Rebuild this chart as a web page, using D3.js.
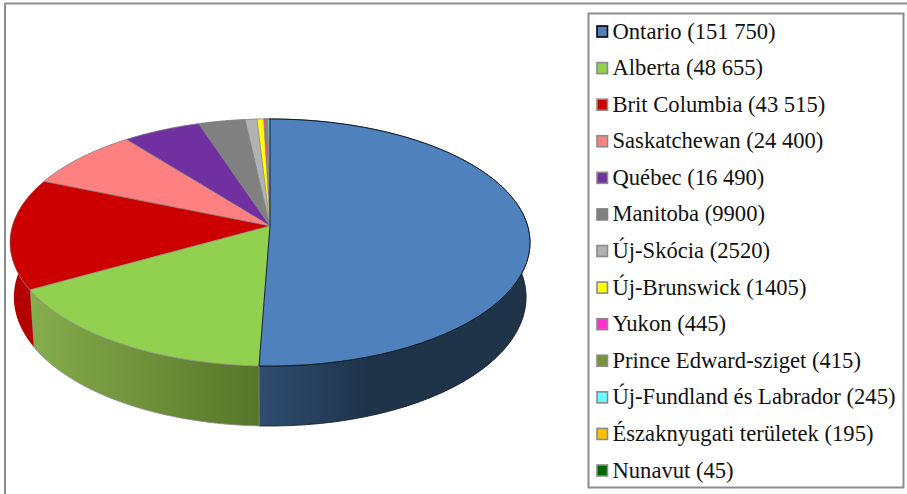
<!DOCTYPE html>
<html>
<head>
<meta charset="utf-8">
<script src="https://cdn.jsdelivr.net/npm/d3@7"></script>
<style>
    html, body { margin: 0; padding: 0; background: #fff; overflow: hidden; }
    text { font-family: 'Liberation Serif', serif; font-size: 22.6px; fill: #111; }
</style>
</head>
<body>
<svg width="907" height="494"></svg>
<script>
const regions = ['Ontario', 'Alberta', 'Brit Columbia', 'Saskatchewan', 'Québec', 'Manitoba', 'Új-Skócia',
    'Új-Brunswick', 'Yukon', 'Prince Edward-sziget', 'Új-Fundland és Labrador', 'Északnyugati területek', 'Nunavut'];
const counts = [151750, 48655, 43515, 24400, 16490, 9900, 2520, 1405, 445, 415, 245, 195, 45];
const countLabels = ['151 750', '48 655', '43 515', '24 400', '16 490', '9900', '2520', '1405', '445', '415', '245', '195', '45'];
const colors = ['#4f81bd', '#92d050', '#cc0000', '#ff8080', '#7030a0', '#808080', '#b2b2b2',
    '#ffff00', '#ff33cc', '#77933c', '#66ffff', '#ffc000', '#006600'];
const sideLeft = ['#2f4d70', '#86ad4c', '#b30000', '#cc6666', '#5a2680', '#666666', '#8e8e8e',
    '#cccc00', '#cc29a3', '#5f7630', '#52cccc', '#cc9a00', '#005200'];
const sideRight = ['#1f3349', '#577529', '#b30000', '#cc6666', '#5a2680', '#666666', '#8e8e8e',
    '#cccc00', '#cc29a3', '#5f7630', '#52cccc', '#cc9a00', '#005200'];

const svg = d3.select('svg');
const frameColor = '#8c8c8c';

// the pie is a tilted disc, so project it instead of using d3.arc
const cx = 270, cy = 226;
const radiusX = 257.7, radiusY = 121.3, thickness = 55;
const tilt = 0.1336, sink = 0.015;

const project = (angle, z) => {
    const u = Math.sin(angle);
    const v = Math.cos(angle);
    const w = 1 + tilt * v + sink * z;
    return [cx + radiusX * u / w, cy + (thickness * z - radiusY * v) / w];
};

const slices = d3.pie().sort(null)(counts);
const line = d3.line();

const rim = (d, z) => d3.range(0, 61).map(i =>
    project(d.startAngle + (d.endAngle - d.startAngle) * i / 60, z));

const defs = svg.append('defs');
slices.forEach((d, i) => {
    const xs = d3.extent(rim(d, 0), p => p[0]);
    const grad = defs.append('linearGradient')
        .attr('id', `side${i}`)
        .attr('gradientUnits', 'userSpaceOnUse')
        .attr('x1', xs[0]).attr('x2', xs[1]).attr('y1', 0).attr('y2', 0);
    grad.append('stop').attr('offset', 0).attr('stop-color', sideLeft[i]);
    grad.append('stop').attr('offset', i === 0 ? 0.41 : 1).attr('stop-color', sideRight[i]);
});

svg.append('line').attr('x1', 5).attr('x2', 907).attr('y1', 3.5).attr('y2', 3.5)
    .attr('stroke', frameColor).attr('stroke-width', 2);
svg.append('line').attr('x1', 5).attr('x2', 5).attr('y1', 3).attr('y2', 494)
    .attr('stroke', frameColor).attr('stroke-width', 2);

const pie = svg.append('g');
const edge = i => i === 0 ? '#0c1824' : '#8a8a8a';

pie.selectAll('path.side')
    .data(slices)
    .join('path')
    .attr('class', 'side')
    .attr('fill', (d, i) => `url(#side${i})`)
    .attr('stroke', (d, i) => i === 2 ? 'none' : edge(i))
    .attr('stroke-width', 0.8)
    .attr('d', d => line(rim(d, 0).concat(rim(d, 1).reverse())) + 'Z');

// Ontario last, its dark outline lies on top of the neighbours
const tops = slices.map((d, i) => ({ d, i })).reverse();
pie.selectAll('path.top')
    .data(tops)
    .join('path')
    .attr('class', 'top')
    .attr('fill', t => colors[t.i])
    .attr('stroke', t => edge(t.i))
    .attr('stroke-width', t => t.i === 0 ? 0.9 : 0.6)
    .attr('d', t => line([[cx, cy]].concat(rim(t.d, 0))) + 'Z');

const legend = svg.append('g');
legend.append('rect')
    .attr('x', 588.5).attr('y', 13.5).attr('width', 315).attr('height', 474)
    .attr('fill', '#fff').attr('stroke', frameColor).attr('stroke-width', 2);

const rowY = d3.scalePoint().domain(regions).range([31.5, 470.5]);

const rows = legend.selectAll('g.row')
    .data(regions)
    .join('g')
    .attr('class', 'row')
    .attr('transform', d => `translate(0, ${rowY(d)})`);

rows.append('rect')
    .attr('x', 597).attr('y', -5.5).attr('width', 10.5).attr('height', 11)
    .attr('fill', (d, i) => colors[i])
    .attr('stroke', (d, i) => i === 0 ? '#000' : (i === 5 ? colors[i] : '#8a8a8a'))
    .attr('stroke-width', 1.6);

rows.append('text')
    .attr('x', 612.5)
    .attr('y', 7)
    .text((d, i) => `${d} (${countLabels[i]})`);
</script>
</body>
</html>
